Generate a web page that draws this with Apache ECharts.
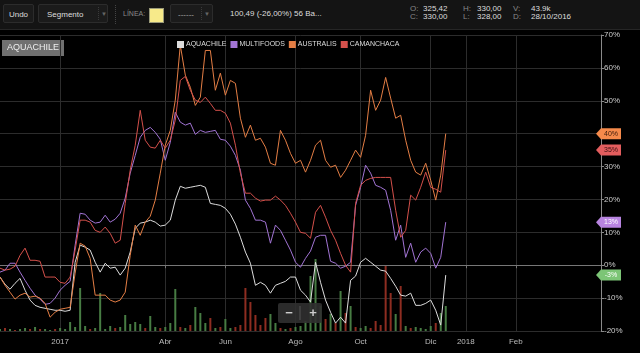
<!DOCTYPE html>
<html>
<head>
<meta charset="utf-8">
<script src="https://cdn.jsdelivr.net/npm/echarts@6/dist/echarts.min.js"></script>
<style>
  html, body { margin: 0; padding: 0; background: #000; }
  #wrap { position: relative; width: 640px; height: 353px; overflow: hidden; background: #000;
          font-family: "Liberation Sans", Arial, sans-serif; }
  #chart { position: absolute; left: 0; top: 0; width: 640px; height: 353px; }
  .toolbar { position: absolute; left: 0; top: 0; width: 640px; height: 29px; background: #141414;
             border-bottom: 1px solid #262626; }
  .btn { position: absolute; top: 4px; height: 19px; border: 1px solid #2c2c2c; background: #1b1b1b;
         border-radius: 2px; color: #ddd; font-size: 8px; line-height: 19px; box-sizing: border-box; }
  .sep { position: absolute; top: 5px; height: 19px; border-left: 1px dotted #444; }
  .txt { position: absolute; white-space: nowrap; }
</style>
</head>
<body>
<div id="wrap">
  <div id="chart"></div>
  <div class="toolbar">
    <div class="btn" style="left:3px;width:31px;text-align:center;">Undo</div>
    <div class="btn" style="left:38px;width:70px;padding-left:8px;">Segmento
      <span style="position:absolute;left:59px;top:2px;height:13px;border-left:1px dotted #3a3a3a;"></span>
      <span style="position:absolute;left:62px;top:0;color:#666;font-size:6px;">&#9660;</span>
    </div>
    <div class="sep" style="left:115px;"></div>
    <div class="txt" style="left:123px;top:10px;color:#8a8a8a;font-size:7px;">LÍNEA:</div>
    <div style="position:absolute;left:149px;top:8px;width:13px;height:13px;background:#f7ea8a;border:1px solid #9a9a7a;"></div>
    <div class="btn" style="left:170px;width:43px;padding-left:7px;color:#aaa;letter-spacing:0px;">------
      <span style="position:absolute;left:30px;top:2px;height:13px;border-left:1px dotted #3a3a3a;"></span>
      <span style="position:absolute;left:33px;top:0;color:#666;font-size:6px;">&#9660;</span>
    </div>
    <div class="txt" style="left:230px;top:9px;color:#ddd;font-size:8px;">100,49 (-26,00%) 56 Ba...</div>
    <div class="txt" style="left:410px;top:4px;color:#888;font-size:8px;">O:</div>
    <div class="txt" style="left:423px;top:4px;color:#ddd;font-size:8px;">325,42</div>
    <div class="txt" style="left:463px;top:4px;color:#888;font-size:8px;">H:</div>
    <div class="txt" style="left:477px;top:4px;color:#ddd;font-size:8px;">330,00</div>
    <div class="txt" style="left:513px;top:4px;color:#888;font-size:8px;">V:</div>
    <div class="txt" style="left:531px;top:4px;color:#ddd;font-size:8px;">43.9k</div>
    <div class="txt" style="left:410px;top:12px;color:#888;font-size:8px;">C:</div>
    <div class="txt" style="left:423px;top:12px;color:#ddd;font-size:8px;">330,00</div>
    <div class="txt" style="left:463px;top:12px;color:#888;font-size:8px;">L:</div>
    <div class="txt" style="left:477px;top:12px;color:#ddd;font-size:8px;">328,00</div>
    <div class="txt" style="left:513px;top:12px;color:#888;font-size:8px;">D:</div>
    <div class="txt" style="left:531px;top:12px;color:#ddd;font-size:8px;">28/10/2016</div>
  </div>
</div>

<script>
// x axis: one slot per few trading days, labels only on month starts
const slotCount = 121;
const tickLabels = ["2017", "Abr", "Jun", "Ago", "Oct", "Dic", "2018", "Feb"];
const tickSlots = [12, 33, 45, 59, 72, 86, 93, 103];

const seriesNames = ["AQUACHILE", "MULTIFOODS", "AUSTRALIS", "CAMANCHACA"];
const lineColors = ["#dcdcdc", "#a274d4", "#e47e45", "#d4504b"];
const tagColors = ["#7cc576", "#b884e0", "#f58a4b", "#e35d5e"];
const tagText = ["#fff", "#fff", "#3a1a0a", "#3a1010"];

// % change series
const aquachile = [-3.6, -5.8, -7.3, -5.5, -4.0, -7.6, -10.6, -12.2, -12.8, -13.1,
  -13.4, -13.7, -13.7, -14.0, -13.7, 0.9, 6.1, 5.5, 4.6, 0.9,
  -2.1, 0.6, -0.9, -0.6, -3.0, -0.9, 4.0, 11.2, 12.8, 13.1,
  13.7, 13.1, 11.9, 12.2, 13.7, 19.8, 24.0, 23.4, 23.7, 24.0,
  24.3, 23.7, 18.8, 18.5, 18.2, 17.3, 15.5, 12.5, 8.5, 4.0,
  0.6, -6.1, -5.2, -6.1, -8.5, -6.1, -5.5, -4.9, -3.6, -3.6,
  -7.6, -9.1, -11.2, 0.9, -5.2, -10.6, -14.3, -17.6, -15.8, -17.6,
  -4.6, -3.3, 0.9, 2.1, 0.9, -0.3, -1.5, -1.8, -4.0, -6.4,
  -9.1, -9.4, -8.5, -12.2, -12.2, -11.6, -10.6, -13.7, -18.2, -3.0];

const multifoods = [-2.1, -1.5, 0.6, 0.6, -2.1, -4.6, -7.0, -9.1, -10.3, -11.9,
  -11.6, -10.0, -7.6, -6.1, -4.9, 6.1, 15.8, 15.5, 13.7, 12.8,
  13.1, 15.2, 13.1, 14.0, 15.8, 20.4, 28.0, 33.4, 38.9, 41.0,
  41.9, 40.4, 38.3, 31.9, 37.4, 46.5, 43.5, 42.6, 43.2, 39.8,
  41.0, 40.4, 40.7, 41.0, 38.3, 38.0, 36.2, 33.4, 28.9, 19.8,
  17.3, 13.7, 13.7, 13.1, 6.7, 12.2, 10.6, 7.6, 4.6, 0.9,
  -0.6, 2.1, 4.3, 8.5, 9.1, 9.1, 1.2, 0.6, -0.9, -0.3,
  0.9, 18.2, 23.7, 30.4, 28.0, 24.3, 23.7, 22.8, 16.7, 7.6,
  12.2, 2.4, 6.7, 0.9, 4.0, 5.2, 3.6, -0.9, 2.4, 13.1];

const australis = [-3.6, -6.1, -8.2, -10.3, -9.1, -8.5, -9.7, -9.4, -10.0, -11.6,
  -15.8, -14.3, -13.4, -13.1, -12.8, -2.4, 6.7, 5.8, 2.1, -9.1,
  -9.1, -9.1, -10.6, -11.2, -10.6, -8.2, 3.0, 12.2, 9.1, 13.1,
  14.9, 19.8, 28.0, 36.5, 41.0, 50.2, 66.9, 57.8, 54.1, 48.6,
  51.1, 65.3, 65.3, 53.2, 58.4, 51.7, 56.2, 55.3, 44.7, 38.9,
  42.6, 38.0, 38.6, 35.9, 31.0, 30.4, 41.0, 38.0, 34.0, 31.0,
  31.9, 28.3, 31.9, 36.5, 38.0, 31.9, 29.8, 30.4, 26.7, 28.9,
  31.9, 35.0, 32.8, 39.5, 53.2, 47.1, 50.2, 57.1, 50.8, 44.7,
  45.6, 38.0, 31.9, 28.3, 27.4, 31.0, 25.8, 19.8, 27.4, 40.0];

const camanchaca = [-0.9, -1.5, -1.2, -0.3, 3.0, 5.2, 1.5, 1.5, 1.2, -3.6,
  -3.6, -3.6, -5.2, -5.5, -3.6, 4.6, 13.7, 13.7, 13.1, 10.6,
  10.0, 11.6, 9.7, 6.7, 7.6, 18.8, 28.9, 36.5, 47.1, 38.0,
  35.9, 35.6, 38.0, 35.6, 38.0, 44.1, 56.2, 57.4, 53.2, 50.2,
  49.5, 51.1, 49.2, 47.1, 47.1, 46.2, 43.2, 36.5, 28.0, 21.9,
  21.9, 20.4, 19.5, 19.8, 19.8, 21.0, 19.8, 18.2, 15.8, 13.1,
  10.0, 9.7, 8.2, 16.1, 18.2, 14.6, 10.6, 7.6, 3.6, 0.0,
  -2.1, 18.8, 24.3, 25.8, 26.4, 26.7, 26.7, 26.7, 26.7, 16.7,
  8.5, 10.6, 21.3, 19.8, 23.7, 28.3, 23.7, 23.1, 22.2, 35.0];

// volume (k) and direction (1 up / -1 down) of the first symbol
const volume = [20, 30, 20, 10, 20, 30, 20, 40, 20, 20,
  10, 20, 30, 20, 90, 40, 430, 50, 20, 30,
  380, 20, 50, 30, 40, 160, 70, 90, 70, 30,
  150, 40, 30, 40, 80, 420, 40, 30, 60, 240,
  180, 80, 130, 30, 40, 120, 30, 40, 60, 430,
  290, 160, 60, 130, 170, 80, 30, 20, 30, 40,
  50, 100, 550, 720, 250, 120, 170, 80, 400, 180,
  250, 40, 30, 50, 30, 100, 60, 650, 380, 170,
  450, 50, 30, 40, 30, 20, 50, 80, 180, 250];
const volDir = [1, -1, 1, -1, 1, 1, -1, 1, -1, 1,
  1, -1, 1, 1, 1, 1, 1, 1, -1, 1,
  1, 1, 1, -1, 1, 1, 1, 1, 1, -1,
  1, 1, -1, 1, 1, 1, -1, 1, -1, 1,
  1, 1, -1, 1, -1, 1, 1, -1, -1, -1,
  -1, -1, -1, -1, 1, 1, -1, 1, -1, 1,
  1, 1, 1, 1, 1, -1, 1, -1, 1, -1,
  1, -1, 1, 1, -1, -1, -1, -1, -1, 1,
  -1, 1, -1, 1, 1, 1, 1, -1, 1, 1];

const lines = [aquachile, multifoods, australis, camanchaca];

const categories = [];
for (let i = 0; i < slotCount; i++) {
  const k = tickSlots.indexOf(i);
  categories.push(k >= 0 ? tickLabels[k] : "");
}
const isTick = (idx) => tickSlots.indexOf(idx) >= 0;

const chart = echarts.init(document.getElementById("chart"));

const gridTop = 35, gridBottom = 22, gridRight = 39;

chart.setOption({
  backgroundColor: "#000",
  animation: false,
  textStyle: { fontFamily: "Liberation Sans, Arial, sans-serif" },
  grid: { left: 0, right: gridRight, top: gridTop, bottom: gridBottom },
  legend: {
    data: seriesNames,
    left: 172,
    top: 36,
    icon: "rect",
    itemWidth: 7,
    itemHeight: 7,
    itemGap: 4,
    textStyle: { color: "#ddd", fontSize: 7, padding: [0, 0, 0, -3] },
  },
  xAxis: {
    type: "category",
    data: categories,
    boundaryGap: false,
    axisLine: { lineStyle: { color: "#777" } },
    axisTick: { interval: isTick, length: 3, lineStyle: { color: "#777" } },
    axisLabel: { interval: isTick, color: "#bbb", fontSize: 8, margin: 7 },
    splitLine: { show: true, interval: isTick, lineStyle: { color: "#2c2c2c" } },
  },
  yAxis: [
    {
      type: "value",
      position: "right",
      min: -20,
      max: 70,
      interval: 10,
      axisLine: { show: true, lineStyle: { color: "#8a8a8a" } },
      axisTick: { show: true, length: 3, lineStyle: { color: "#8a8a8a" } },
      axisLabel: { formatter: "{value}%", color: "#ccc", fontSize: 8, margin: 3 },
      splitLine: { lineStyle: { color: "#2c2c2c" } },
    },
    { type: "value", min: 0, max: 2960, show: false },
  ],
  series: [
    {
      name: "vol",
      type: "bar",
      yAxisIndex: 1,
      barWidth: 2,
      data: volume,
      itemStyle: {
        color: (p) => (volDir[p.dataIndex] > 0 ? "#477c43" : "#8e2d21"),
      },
      z: 1,
    },
  ].concat(
    seriesNames.map((name, i) => ({
      name: name,
      type: "line",
      data: lines[i],
      symbol: "none",
      color: lineColors[i],
      lineStyle: { width: 1, color: lineColors[i] },
      z: 3,
    }))
  ),
  graphic: [
    {
      type: "rect",
      shape: { x: 2, y: 40, width: 62, height: 16 },
      style: { fill: "#707070" },
    },
    {
      type: "text",
      x: 33, y: 48,
      style: { text: "AQUACHILE", fill: "#eee", fontSize: 9, align: "center", verticalAlign: "middle",
               fontFamily: "Liberation Sans, Arial" },
    },
    {
      type: "rect",
      shape: { x: 278, y: 303, width: 44, height: 20, r: 2 },
      style: { fill: "rgba(48,48,48,0.9)" },
      z: 10,
    },
    {
      type: "line",
      shape: { x1: 300, y1: 306, x2: 300, y2: 320 },
      style: { stroke: "#555", lineWidth: 1 },
      z: 11,
    },
    {
      type: "text", x: 289, y: 313,
      style: { text: "−", fill: "#ccc", fontSize: 13, fontWeight: "bold", align: "center", verticalAlign: "middle" },
      z: 11,
    },
    {
      type: "text", x: 313, y: 313,
      style: { text: "+", fill: "#ccc", fontSize: 13, fontWeight: "bold", align: "center", verticalAlign: "middle" },
      z: 11,
    },
  ],
});

// last-value tags on the right axis, positioned through the y scale
const axisX = 640 - gridRight;
const tags = [];
lines.forEach((arr, i) => {
  const v = arr[arr.length - 1];
  const y = chart.convertToPixel({ yAxisIndex: 0 }, v);
  tags.push({
    type: "polygon",
    shape: { points: [[axisX - 5, y], [axisX, y - 5.5], [axisX + 20, y - 5.5], [axisX + 20, y + 5.5], [axisX, y + 5.5]] },
    style: { fill: tagColors[i] },
    z: 20,
  });
  tags.push({
    type: "text",
    x: axisX + 10, y: y,
    style: { text: Math.round(v) + "%", fill: tagText[i], fontSize: 7, align: "center", verticalAlign: "middle" },
    z: 21,
  });
});
chart.setOption({ graphic: chart.getOption().graphic[0].elements.concat(tags) });

window.addEventListener("resize", () => chart.resize());
</script>
</body>
</html>
